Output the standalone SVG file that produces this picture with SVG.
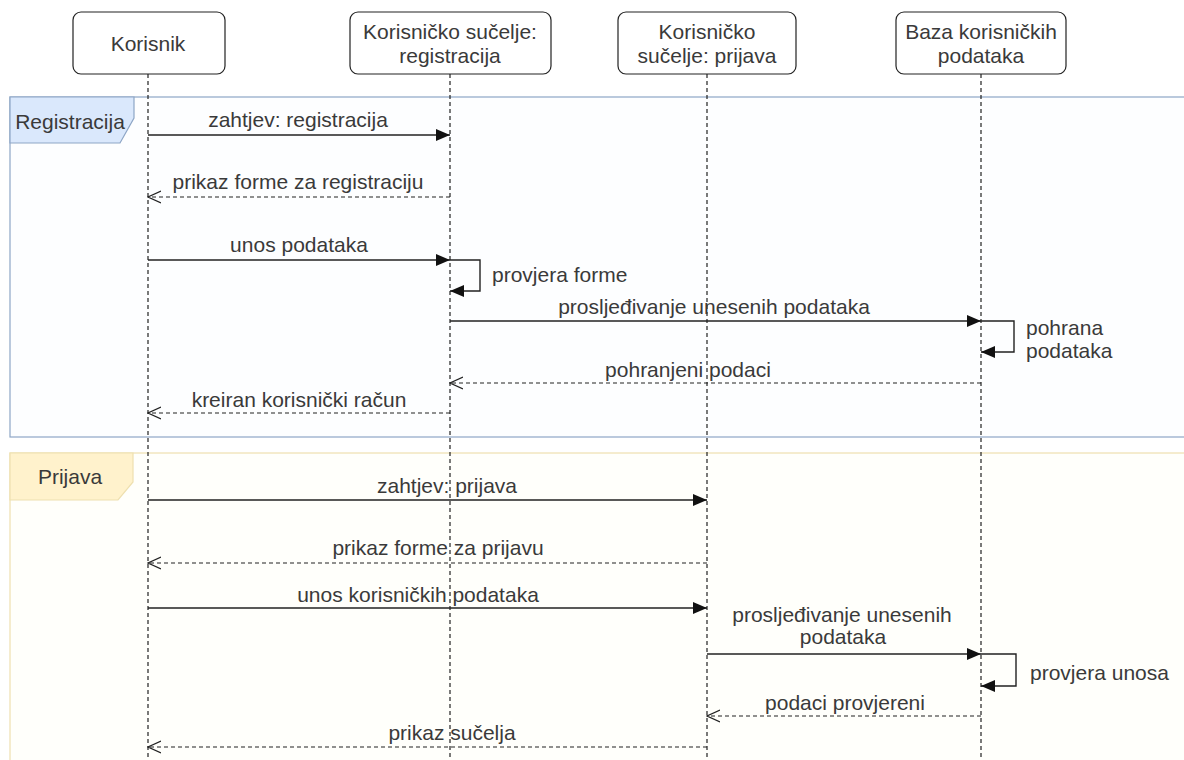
<svg xmlns="http://www.w3.org/2000/svg" width="1184" height="760" viewBox="0 0 1184 760">
  <style>
    text { font-family: "Liberation Sans", Arial, sans-serif; font-size: 21px; fill: #3a3a3a; }
    .c { text-anchor: middle; }
    .box { fill: #fff; stroke: #222; stroke-width: 1.2; }
    .life { stroke: #222; stroke-width: 1.2; stroke-dasharray: 4 3; fill: none; }
    .msg { stroke: #222; stroke-width: 1.4; fill: none; marker-end: url(#block); }
    .ret { stroke: #222; stroke-width: 1.2; fill: none; stroke-dasharray: 4 3; marker-end: url(#open); }
  </style>
  <defs>
    <marker id="block" viewBox="0 0 14 12" refX="14" refY="6" markerWidth="14" markerHeight="12" markerUnits="userSpaceOnUse" orient="auto">
      <path d="M0,0 L14,6 L0,12 Z" fill="#111"/>
    </marker>
    <marker id="open" viewBox="0 0 14 14" refX="13" refY="7" markerWidth="14" markerHeight="14" markerUnits="userSpaceOnUse" orient="auto">
      <path d="M0,1 L13,7 L0,13" fill="none" stroke="#222" stroke-width="1.2"/>
    </marker>
  </defs>
  <rect width="1184" height="760" fill="#fff"/>

  <!-- combined fragment frames -->
  <g id="frame-registracija">
    <rect x="10" y="97" width="1180" height="340" fill="#fdfeff" stroke="#8ea6c6" stroke-width="1.2"/>
    <polygon points="10,97 134,97 134,118 120,143 10,143" fill="#dae8fc" stroke="#8ea6c6" stroke-width="1.2"/>
    <text x="70" y="129" class="c">Registracija</text>
  </g>
  <g id="frame-prijava">
    <rect x="10" y="453" width="1180" height="320" fill="#fffffb" stroke="#eee0b0" stroke-width="1.2"/>
    <polygon points="10,453 133,453 133,482 118,500 10,500" fill="#fff2cc" stroke="#eee0b0" stroke-width="1.2"/>
    <text x="70" y="484" class="c">Prijava</text>
  </g>

  <!-- lifelines -->
  <g id="lifelines">
    <line class="life" x1="148" y1="74" x2="148" y2="760"/>
    <line class="life" x1="450" y1="74" x2="450" y2="760"/>
    <line class="life" x1="707" y1="74" x2="707" y2="760"/>
    <line class="life" x1="981" y1="74" x2="981" y2="760"/>
  </g>

  <!-- participants -->
  <g id="korisnik">
    <rect class="box" x="73" y="12" width="152" height="62" rx="8"/>
    <text x="148" y="51" class="c">Korisnik</text>
  </g>
  <g id="sucelje-registracija">
    <rect class="box" x="350" y="12" width="201" height="62" rx="8"/>
    <text x="450" y="39" class="c">Korisničko sučelje:</text>
    <text x="450" y="63" class="c">registracija</text>
  </g>
  <g id="sucelje-prijava">
    <rect class="box" x="618" y="12" width="178" height="62" rx="8"/>
    <text x="707" y="39" class="c">Korisničko</text>
    <text x="707" y="63" class="c">sučelje: prijava</text>
  </g>
  <g id="baza">
    <rect class="box" x="896" y="12" width="170" height="62" rx="8"/>
    <text x="981" y="39" class="c">Baza korisničkih</text>
    <text x="981" y="63" class="c">podataka</text>
  </g>

  <!-- messages -->
  <g id="connectors">
    <line class="msg" x1="148" y1="135" x2="450" y2="135"/>
    <line class="ret" x1="450" y1="197" x2="148" y2="197"/>
    <line class="msg" x1="148" y1="260" x2="450" y2="260"/>
    <polyline class="msg" points="450,260 480,260 480,291 450,291"/>
    <line class="msg" x1="450" y1="321" x2="981" y2="321"/>
    <polyline class="msg" points="981,321 1014,321 1014,352 981,352"/>
    <line class="ret" x1="981" y1="383" x2="450" y2="383"/>
    <line class="ret" x1="450" y1="413" x2="148" y2="413"/>

    <line class="msg" x1="148" y1="500" x2="707" y2="500"/>
    <line class="ret" x1="707" y1="563" x2="148" y2="563"/>
    <line class="msg" x1="148" y1="608" x2="707" y2="608"/>
    <line class="msg" x1="707" y1="654" x2="981" y2="654"/>
    <polyline class="msg" points="981,654 1016,654 1016,686 981,686"/>
    <line class="ret" x1="981" y1="716" x2="707" y2="716"/>
    <line class="ret" x1="707" y1="747" x2="148" y2="747"/>
  </g>

  <!-- message labels -->
  <g id="labels">
    <text x="298" y="127" class="c">zahtjev: registracija</text>
    <text x="298" y="189" class="c">prikaz forme za registraciju</text>
    <text x="299" y="252" class="c">unos podataka</text>
    <text x="492" y="282">provjera forme</text>
    <text x="714" y="314" class="c">prosljeđivanje unesenih podataka</text>
    <text x="1026" y="335">pohrana</text>
    <text x="1026" y="358">podataka</text>
    <text x="688" y="377" class="c">pohranjeni podaci</text>
    <text x="299" y="407" class="c">kreiran korisnički račun</text>

    <text x="447" y="493" class="c">zahtjev: prijava</text>
    <text x="438" y="555" class="c">prikaz forme za prijavu</text>
    <text x="418" y="602" class="c">unos korisničkih podataka</text>
    <text x="842" y="622" class="c">prosljeđivanje unesenih</text>
    <text x="843" y="644" class="c">podataka</text>
    <text x="1030" y="680">provjera unosa</text>
    <text x="845" y="710" class="c">podaci provjereni</text>
    <text x="452" y="740" class="c">prikaz sučelja</text>
  </g>
</svg>
